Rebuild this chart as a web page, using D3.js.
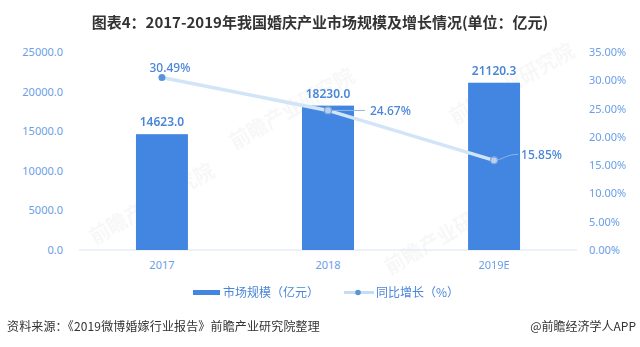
<!DOCTYPE html>
<html>
<head>
<meta charset="utf-8">
<script src="https://cdn.jsdelivr.net/npm/d3@7"></script>
<style>
html,body{margin:0;padding:0;background:#fff;}
svg{display:block;font-family:"Noto Sans CJK SC","Noto Sans",sans-serif;}
</style>
</head>
<body>
<svg id="chart" width="640" height="347"></svg>
<script>
const categories = ["2017", "2018", "2019E"];
const marketSize = [14623.0, 18230.0, 21120.3];
const growthRate = [30.49, 24.67, 15.85];
const leftTicks = [0, 5000, 10000, 15000, 20000, 25000];
const rightTicks = [0, 5, 10, 15, 20, 25, 30, 35];
const title = "图表4：2017-2019年我国婚庆产业市场规模及增长情况(单位：亿元)";
const legendLabels = ["市场规模（亿元）", "同比增长（%）"];
const sourceText = "资料来源：《2019微博婚嫁行业报告》前瞻产业研究院整理";
const brandText = "@前瞻经济学人APP";

const svg = d3.select("#chart");
const W = 640, H = 347;
const m = {left: 79, right: 63, top: 52, bottom: 97};
const x = d3.scaleBand().domain(categories).range([m.left, W - m.right]).paddingInner(0.687).paddingOuter(0.343);
const yL = d3.scaleLinear().domain([0, 25000]).range([H - m.bottom, m.top]);
const yR = d3.scaleLinear().domain([0, 35]).range([H - m.bottom, m.top]);

// faint watermarks (kept fully inside the picture)
const wm = svg.append("g").attr("fill", "#000").attr("opacity", 0.035)
  .attr("font-weight", "bold").attr("font-size", 20);
[[235, 150], [455, 125], [95, 245], [390, 275]].forEach(([a, b]) => {
  wm.append("text").attr("transform", `translate(${a},${b}) rotate(-30)`).text("前瞻产业研究院");
});

// title
svg.append("text").attr("x", 320).attr("y", 28).attr("text-anchor", "middle")
  .attr("font-size", 15).attr("font-weight", "bold").attr("fill", "#333").text(title);

// baseline
svg.append("line").attr("x1", m.left).attr("x2", W - m.right)
  .attr("y1", yL(0)).attr("y2", yL(0)).attr("stroke", "#d9e4f5").attr("stroke-width", 1);

// left axis
const axL = svg.append("g").attr("transform", `translate(${m.left - 16},0)`)
  .call(d3.axisLeft(yL).tickValues(leftTicks).tickFormat(d => d3.format(".1f")(d)).tickSize(0).tickPadding(0));
axL.select(".domain").remove();
axL.selectAll("text").attr("font-size", 11).attr("fill", "#6b9ee8").attr("font-family", "'Noto Sans','DejaVu Sans',sans-serif");

// right axis
const axR = svg.append("g").attr("transform", `translate(${W - m.right + 12},0)`)
  .call(d3.axisRight(yR).tickValues(rightTicks).tickFormat(d => d3.format(".2f")(d) + "%").tickSize(0).tickPadding(0));
axR.select(".domain").remove();
axR.selectAll("text").attr("font-size", 11).attr("fill", "#6b9ee8").attr("font-family", "'Noto Sans','DejaVu Sans',sans-serif");

// x axis
const axX = svg.append("g").attr("transform", `translate(0,${yL(0) + 11})`)
  .call(d3.axisBottom(x).tickSize(0).tickPadding(0));
axX.select(".domain").remove();
axX.selectAll("text").attr("font-size", 11).attr("fill", "#6b9ee8").attr("dy", "0.71em").attr("font-family", "'Noto Sans','DejaVu Sans',sans-serif");

// bars
svg.append("g").selectAll("rect").data(marketSize).join("rect")
  .attr("x", (d, i) => x(categories[i])).attr("width", x.bandwidth())
  .attr("y", d => yL(d)).attr("height", d => yL(0) - yL(d))
  .attr("fill", "#4286e2");

svg.append("g").selectAll("text").data(marketSize).join("text")
  .attr("x", (d, i) => x(categories[i]) + x.bandwidth() / 2).attr("y", d => yL(d) - 8)
  .attr("text-anchor", "middle").attr("font-size", 12).attr("font-weight", 600)
  .attr("fill", "#4a86d8").attr("font-family", "'Noto Sans','DejaVu Sans',sans-serif")
  .text(d => d3.format(".1f")(d));

// line
const cx = i => x(categories[i]) + x.bandwidth() / 2;
const line = d3.line().x((d, i) => cx(i)).y(d => yR(d));
svg.append("path").datum(growthRate).attr("d", line).attr("fill", "none")
  .attr("stroke", "#d2e4f7").attr("stroke-width", 3.5);

// leader lines
const p1 = [cx(1), yR(growthRate[1])];
svg.append("line").attr("x1", p1[0]).attr("y1", p1[1]).attr("x2", p1[0] + 37).attr("y2", p1[1])
  .attr("stroke", "#8fb4e6").attr("stroke-width", 1);
const p2 = [cx(2), yR(growthRate[2])];
svg.append("path").attr("d", `M${p2[0]},${p2[1]} C${p2[0] + 8},${p2[1]} ${p2[0] + 12},${p2[1] - 6} ${p2[0] + 24},${p2[1] - 6}`)
  .attr("fill", "none").attr("stroke", "#8fb4e6").attr("stroke-width", 1);

svg.append("g").selectAll("circle").data(growthRate).join("circle")
  .attr("cx", (d, i) => cx(i)).attr("cy", d => yR(d)).attr("r", 3.5)
  .attr("fill", (d, i) => i === 0 ? "#5a93d9" : "#b9d1ee")
  .attr("stroke", (d, i) => i === 0 ? "none" : "#7ea3d6").attr("stroke-width", 1.2);

// line labels
const lblStyle = sel => sel.attr("font-size", 12).attr("fill", "#4a86d8").attr("font-weight", 500)
  .attr("font-family", "'Noto Sans','DejaVu Sans',sans-serif");
svg.append("text").attr("x", cx(0) + 8).attr("y", yR(growthRate[0]) - 6).attr("text-anchor", "middle")
  .call(lblStyle).text(growthRate[0].toFixed(2) + "%");
svg.append("text").attr("x", p1[0] + 42).attr("y", p1[1]).attr("dy", "0.35em")
  .call(lblStyle).text(growthRate[1].toFixed(2) + "%");
svg.append("text").attr("x", p2[0] + 27).attr("y", p2[1] - 6).attr("dy", "0.35em")
  .call(lblStyle).text(growthRate[2].toFixed(2) + "%");

// legend
const lg = svg.append("g");
lg.append("rect").attr("x", 193).attr("y", 290).attr("width", 27).attr("height", 5).attr("fill", "#4286e2");
lg.append("text").attr("x", 223).attr("y", 293).attr("dy", "0.35em").attr("font-size", 12)
  .attr("fill", "#4a86d8").text(legendLabels[0]);
lg.append("line").attr("x1", 344).attr("x2", 374).attr("y1", 292.5).attr("y2", 292.5)
  .attr("stroke", "#c6dcf4").attr("stroke-width", 3);
lg.append("circle").attr("cx", 358).attr("cy", 292.5).attr("r", 2.8).attr("fill", "#5a93d9");
lg.append("text").attr("x", 376).attr("y", 293).attr("dy", "0.35em").attr("font-size", 12)
  .attr("fill", "#4a86d8").text(legendLabels[1]);

// footer
svg.append("text").attr("x", 7).attr("y", 331).attr("font-size", 12).attr("fill", "#333")
  .attr("letter-spacing", 0.15).text(sourceText);
svg.append("text").attr("x", 636).attr("y", 331).attr("text-anchor", "end").attr("font-size", 12)
  .attr("fill", "#333").text(brandText);
</script>
</body>
</html>
